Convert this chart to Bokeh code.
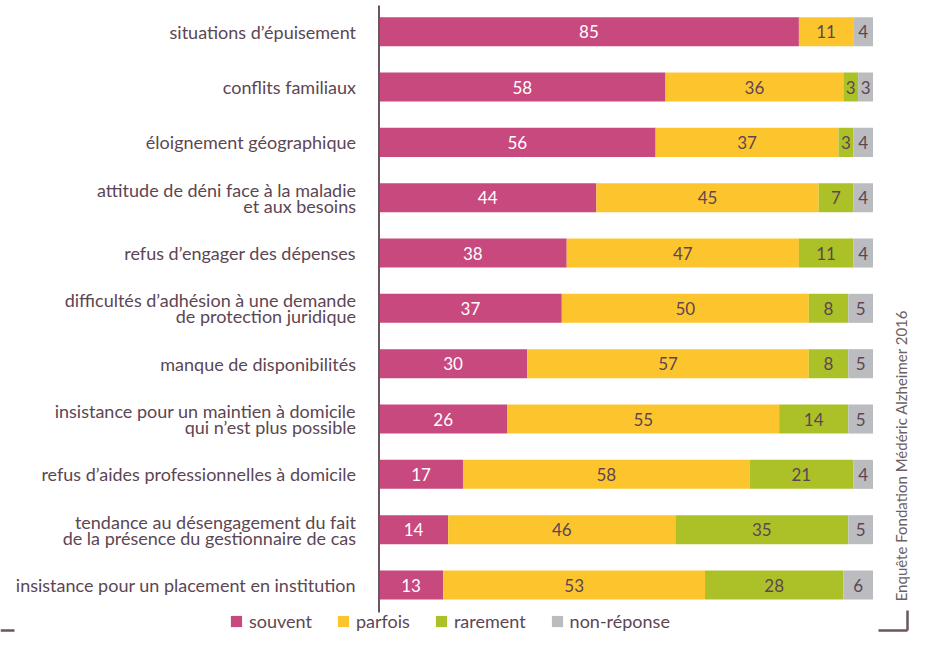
import math
from bokeh.plotting import figure
from bokeh.models import Range1d, ColumnDataSource, Legend, LegendItem, Label
from bokeh.core.properties import value
from bokeh.embed import file_html
from bokeh.resources import INLINE

categories = [
    "situations d’épuisement",
    "conflits familiaux",
    "éloignement géographique",
    "attitude de déni face à la maladie\net aux besoins",
    "refus d’engager des dépenses",
    "difficultés d’adhésion à une demande\nde protection juridique",
    "manque de disponibilités",
    "insistance pour un maintien à domicile\nqui n’est plus possible",
    "refus d’aides professionnelles à domicile",
    "tendance au désengagement du fait\nde la présence du gestionnaire de cas",
    "insistance pour un placement en institution",
]
souvent = [85, 58, 56, 44, 38, 37, 30, 26, 17, 14, 13]
parfois = [11, 36, 37, 45, 47, 50, 57, 55, 58, 46, 53]
rarement = [0, 3, 3, 7, 11, 8, 8, 14, 21, 35, 28]
non_reponse = [4, 3, 4, 4, 4, 5, 5, 5, 4, 5, 6]
series_names = ["souvent", "parfois", "rarement", "non-réponse"]
series_colors = ["#c8497e", "#fdc52d", "#acc127", "#bbbcc0"]
label_colors = ["#ffffff", "#5d4653", "#5d4653", "#5d4653"]
source_note = "Enquête Fondation Médéric Alzheimer 2016"

TXT = "#5d4653"
LINE = "#6d5560"
FONT = "Lato"

W, H = 910, 632
PX = 4.94          # pixels per percent
X0 = 378.5         # frame pixel of 0 %
ROW = 55.33        # pixels per row
Y0 = 31.2          # frame pixel of first row centre

x_start = -X0 / PX
x_end = (W - X0) / PX
y_top = -Y0 / ROW
y_bot = (H - Y0) / ROW


def xd(px):
    return (px - X0) / PX


def yd(py):
    return (py - Y0) / ROW


p = figure(width=W, height=H, output_backend="svg", toolbar_location=None,
           x_range=Range1d(x_start, x_end), y_range=Range1d(y_bot, y_top),
           min_border=0, min_border_left=0, min_border_right=0,
           min_border_top=0, min_border_bottom=0)
p.axis.visible = False
p.grid.visible = False
p.outline_line_color = None
p.background_fill_color = "white"

rows = list(range(len(categories)))
series = [souvent, parfois, rarement, non_reponse]
left = [0] * len(rows)
renderers = []
for name, vals, col, lcol in zip(series_names, series, series_colors, label_colors):
    right = [l + v for l, v in zip(left, vals)]
    src = ColumnDataSource(dict(y=rows, left=left, right=right,
                                mid=[(l + r) / 2 for l, r in zip(left, right)],
                                txt=[str(v) if v > 0 else "" for v in vals]))
    r = p.hbar(y="y", left="left", right="right", height=0.525, source=src,
               fill_color=col, line_color=None)
    renderers.append((name, r))
    p.text(x="mid", y="y", text="txt", source=src, text_align="center",
           text_baseline="middle", text_color=lcol, text_font=value(FONT),
           text_font_size="17px")
    left = right

# category labels
csrc = ColumnDataSource(dict(x=[0] * len(rows), y=rows, t=categories))
p.text(x="x", y="y", text="t", source=csrc, x_offset=-23, text_align="right",
       text_baseline="middle", text_color=TXT, text_font=value(FONT),
       text_font_size="18px", text_line_height=0.74)

# vertical axis line
p.segment(x0=[0], y0=[yd(5)], x1=[0], y1=[yd(612)],
          line_color=LINE, line_width=2)

# corner brackets
yb = yd(630)
p.segment(x0=[x_start, xd(878), xd(907)],
          y0=[yb, yb, yd(610)],
          x1=[xd(14), xd(907), xd(907)],
          y1=[yb, yb, yb],
          line_color=LINE, line_width=2.5)

# source note
p.add_layout(Label(x=xd(900), y=yd(455), text=source_note,
                   angle=math.pi / 2, text_align="center", text_baseline="middle",
                   text_color="#6d5f66", text_font=FONT, text_font_size="15px"))

legend = Legend(items=[LegendItem(label=n, renderers=[r]) for n, r in renderers],
                orientation="horizontal", location=(229, 0), padding=0, margin=0,
                spacing=24, glyph_width=14, glyph_height=14, label_standoff=6,
                label_text_font=FONT, label_text_font_size="18px",
                label_text_color=TXT, background_fill_alpha=0, border_line_alpha=0,
                label_height=18)
p.add_layout(legend)

open("out.html", "w").write(file_html(p, INLINE))
